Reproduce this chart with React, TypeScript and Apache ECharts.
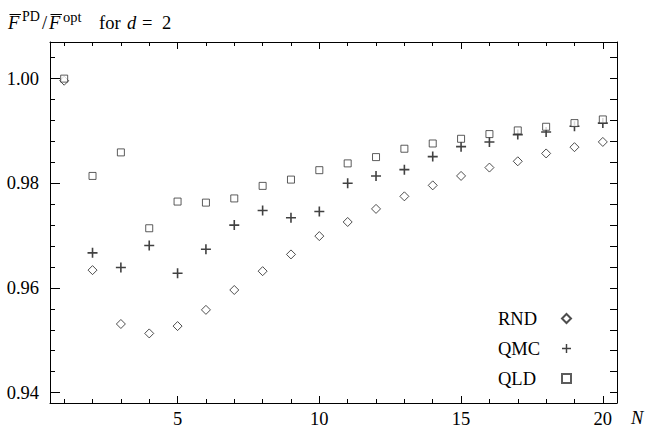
import React, { useEffect, useRef } from "react";
import * as echarts from "echarts";

const N = [1, 2, 3, 4, 5, 6, 7, 8, 9, 10, 11, 12, 13, 14, 15, 16, 17, 18, 19, 20];
const rnd = [0.9996, 0.9634, 0.9531, 0.9513, 0.9527, 0.9558, 0.9596, 0.9632, 0.9664, 0.9699, 0.9726, 0.9751, 0.9775, 0.9796, 0.9814, 0.983, 0.9842, 0.9857, 0.9869, 0.9879];
const qmc = [null, 0.9667, 0.9639, 0.9681, 0.9628, 0.9674, 0.972, 0.9748, 0.9734, 0.9746, 0.98, 0.9814, 0.9826, 0.9851, 0.987, 0.9879, 0.9893, 0.9898, 0.9909, 0.9915];
const qld = [1.0, 0.9814, 0.9859, 0.9714, 0.9765, 0.9763, 0.9771, 0.9795, 0.9807, 0.9825, 0.9838, 0.985, 0.9866, 0.9876, 0.9885, 0.9894, 0.9901, 0.9908, 0.9915, 0.9922];

const xMinorTicks = [1, 2, 3, 4, 5, 6, 7, 8, 9, 10, 11, 12, 13, 14, 15, 16, 17, 18, 19, 20];
const xMajorTicks = [5, 10, 15, 20];
const yMinorTicks = [0.94, 0.944, 0.948, 0.952, 0.956, 0.96, 0.964, 0.968, 0.972, 0.976, 0.98, 0.984, 0.988, 0.992, 0.996, 1.0, 1.004];
const yMajorTicks = [0.94, 0.96, 0.98, 1.0];

const FONT = "Liberation Serif";
const PLUS = "path://M4.2,0H5.8V4.2H10V5.8H5.8V10H4.2V5.8H0V4.2H4.2Z";

export default function App() {
  const ref = useRef<HTMLDivElement>(null);
  useEffect(() => {
    if (!ref.current) return;
    const chart = echarts.init(ref.current, null, { renderer: "svg" });
    const xBase = { type: "value", min: 0.5, max: 20.5, gridIndex: 0, splitLine: { show: false } };
    const yBase = { type: "value", min: 0.938, max: 1.007, gridIndex: 0, splitLine: { show: false } };
    const line = { show: true, lineStyle: { color: "#000", width: 1 } };
    const noLine = { show: false };
    const txt = (text: string, x: number, y: number, size: number, italic = false) => ({
      type: "text",
      x,
      y,
      silent: true,
      style: {
        text,
        fontSize: size,
        fontFamily: FONT,
        fontStyle: italic ? "italic" : "normal",
        fill: "#000",
        verticalAlign: "middle",
        align: "left",
      },
    });
    chart.setOption({
      animation: false,
      backgroundColor: "#fff",
      textStyle: { fontFamily: FONT },
      grid: { left: 50, right: 30, top: 42, bottom: 29, containLabel: false },
      xAxis: [
        { ...xBase, position: "bottom", axisLine: line, axisTick: { show: true, inside: true, length: 4, customValues: xMinorTicks, lineStyle: { color: "#000" } }, axisLabel: { show: false } },
        { ...xBase, position: "bottom", axisLine: noLine, axisTick: { show: true, inside: true, length: 7, customValues: xMajorTicks, lineStyle: { color: "#000" } }, axisLabel: { show: true, customValues: xMajorTicks, margin: 6, fontSize: 18.5, fontFamily: FONT, color: "#000" } },
        { ...xBase, position: "top", axisLine: line, axisTick: { show: true, inside: true, length: 4, customValues: xMinorTicks, lineStyle: { color: "#000" } }, axisLabel: { show: false } },
        { ...xBase, position: "top", axisLine: noLine, axisTick: { show: true, inside: true, length: 7, customValues: xMajorTicks, lineStyle: { color: "#000" } }, axisLabel: { show: false } },
      ],
      yAxis: [
        { ...yBase, position: "left", axisLine: line, axisTick: { show: true, inside: true, length: 5, customValues: yMinorTicks, lineStyle: { color: "#000" } }, axisLabel: { show: false } },
        { ...yBase, position: "left", axisLine: noLine, axisTick: { show: true, inside: true, length: 10, customValues: yMajorTicks, lineStyle: { color: "#000" } }, axisLabel: { show: true, customValues: yMajorTicks, margin: 11, fontSize: 18.5, fontFamily: FONT, color: "#000", formatter: (v: number) => v.toFixed(2) } },
        { ...yBase, position: "right", axisLine: line, axisTick: { show: true, inside: true, length: 7, customValues: yMinorTicks, lineStyle: { color: "#000" } }, axisLabel: { show: false } },
      ],
      legend: {
        show: true,
        orient: "vertical",
        align: "right",
        left: 498,
        top: 309,
        padding: 0,
        itemWidth: 9,
        itemHeight: 9,
        itemGap: 11,
        selectedMode: false,
        formatter: (name: string) => `{t|${name}}`,
        textStyle: {
          fontSize: 18.5,
          fontFamily: FONT,
          color: "#000",
          rich: { t: { width: 59, align: "left", fontSize: 18.5, fontFamily: FONT, color: "#000", lineHeight: 20 } },
        },
        data: ["RND", "QMC", "QLD"],
      },
      series: [
        {
          name: "RND",
          type: "scatter",
          xAxisIndex: 0,
          yAxisIndex: 0,
          symbol: "diamond",
          symbolSize: 9,
          itemStyle: { color: "#fff", borderColor: "#222", borderWidth: 1 },
          data: N.map((n, i) => [n, rnd[i]]),
        },
        {
          name: "QMC",
          type: "scatter",
          xAxisIndex: 0,
          yAxisIndex: 0,
          symbol: PLUS,
          symbolSize: 10,
          itemStyle: { color: "#111", borderWidth: 0 },
          data: N.map((n, i) => [n, qmc[i]]).filter((d) => d[1] !== null),
        },
        {
          name: "QLD",
          type: "scatter",
          xAxisIndex: 0,
          yAxisIndex: 0,
          symbol: "rect",
          symbolSize: 7,
          itemStyle: { color: "#fff", borderColor: "#333", borderWidth: 1 },
          data: N.map((n, i) => [n, qld[i]]),
        },
      ],
      graphic: [
        txt("F", 8, 22.5, 18.5, true),
        { type: "line", silent: true, shape: { x1: 9.5, y1: 14.5, x2: 21, y2: 14.5 }, style: { stroke: "#000", lineWidth: 1 } },
        txt("PD", 22, 16.5, 14),
        txt("/", 42, 22.5, 18.5),
        txt("F", 49, 22.5, 18.5, true),
        { type: "line", silent: true, shape: { x1: 50.5, y1: 14.5, x2: 62, y2: 14.5 }, style: { stroke: "#000", lineWidth: 1 } },
        txt("opt", 63, 16.5, 14.5),
        txt("for", 99, 22.5, 18.5),
        txt("d", 127, 22.5, 18.5, true),
        txt("=", 142, 22.5, 18.5),
        txt("2", 162, 22.5, 18.5),
        txt("N", 631, 418, 18.5, true),
      ],
    });
    return () => chart.dispose();
  }, []);
  return <div ref={ref} style={{ position: "fixed", left: 0, top: 0, width: 647, height: 432 }} />;
}
